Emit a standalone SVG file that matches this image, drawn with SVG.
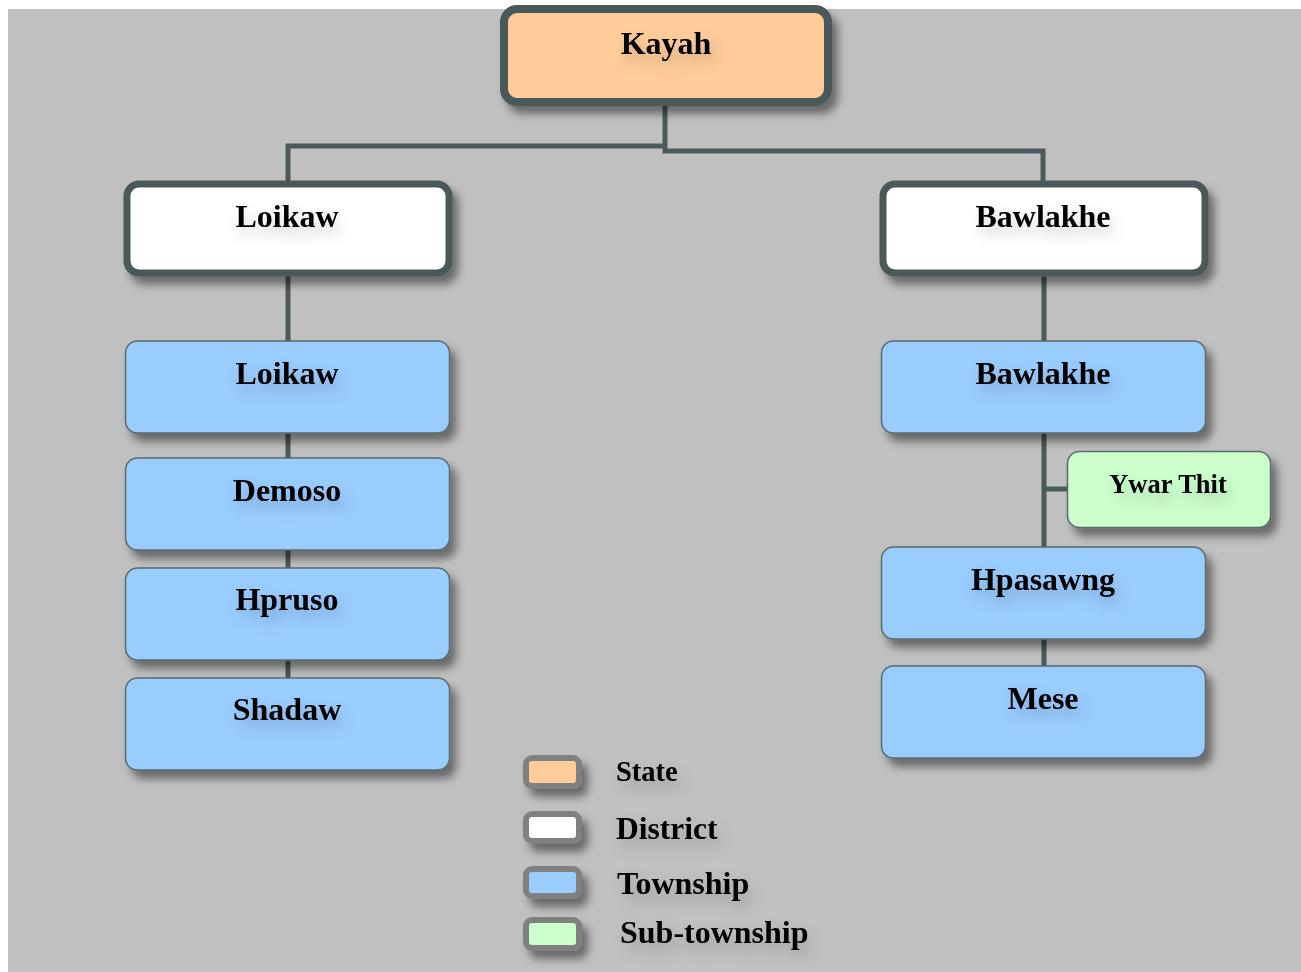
<svg xmlns="http://www.w3.org/2000/svg" width="1301" height="972" viewBox="0 0 1301 972">
<defs>
<filter id="sh" x="-10%" y="-20%" width="130%" height="150%">
<feDropShadow dx="6" dy="8" stdDeviation="4" flood-color="#000" flood-opacity="0.45"/>
</filter>
<filter id="shs" x="-40%" y="-60%" width="200%" height="260%">
<feDropShadow dx="6" dy="8" stdDeviation="4" flood-color="#000" flood-opacity="0.45"/>
</filter>
<filter id="tsh" x="-30%" y="-50%" width="160%" height="250%">
<feDropShadow dx="4" dy="8" stdDeviation="7" flood-color="#000" flood-opacity="0.18"/>
</filter>
<style>
.lbl{font-family:"Liberation Serif","Times New Roman",serif;font-weight:bold;fill:#000;text-anchor:middle;filter:url(#tsh)}
.leg{font-family:"Liberation Serif","Times New Roman",serif;font-weight:bold;fill:#000;filter:url(#tsh)}
.state{fill:#FFCC99;stroke:#4A5959;stroke-width:8}
.dist{fill:#FFFFFF;stroke:#4A5959;stroke-width:7}
.town{fill:#99CCFF;stroke:#5A6A6A;stroke-width:1.5}
.sub{fill:#CCFFCC;stroke:#5A6A6A;stroke-width:1.5}
.sw{stroke:#808080;stroke-width:6}
.con{fill:none;stroke:#4A5959;stroke-width:5}
</style>
</defs>
<rect x="0" y="0" width="1301" height="972" fill="#FFFFFF"/>
<rect x="8" y="9" width="1293" height="963" fill="#C0C0C0"/>
<g id="connectors">
<polyline class="con" points="665,105 665,151 1043,151 1043,181"/>
<polyline class="con" points="665,146 288,146 288,181"/>
<line class="con" x1="288" y1="276" x2="288" y2="341"/>
<line class="con" x1="288" y1="433" x2="288" y2="458"/>
<line class="con" x1="288" y1="550" x2="288" y2="568"/>
<line class="con" x1="288" y1="660" x2="288" y2="678"/>
<line class="con" x1="1044" y1="276" x2="1044" y2="341"/>
<line class="con" x1="1044" y1="433" x2="1044" y2="547"/>
<line class="con" x1="1044" y1="489" x2="1067" y2="489"/>
<line class="con" x1="1044" y1="639" x2="1044" y2="666"/>
</g>
<g id="kayah">
<rect class="state" x="504" y="9" width="324" height="93" rx="13" filter="url(#sh)"/>
<text class="lbl" x="666" y="54" font-size="32">Kayah</text>
</g>
<g id="loikaw-district">
<rect class="dist" x="127" y="184" width="322" height="89" rx="12" filter="url(#sh)"/>
<text class="lbl" x="287" y="227" font-size="32">Loikaw</text>
</g>
<g id="bawlakhe-district">
<rect class="dist" x="883" y="184" width="322" height="89" rx="12" filter="url(#sh)"/>
<text class="lbl" x="1043" y="227" font-size="32">Bawlakhe</text>
</g>
<g id="loikaw-township">
<rect class="town" x="125.500" y="341" width="324" height="92" rx="12" filter="url(#sh)"/>
<text class="lbl" x="287" y="384" font-size="32">Loikaw</text>
</g>
<g id="demoso">
<rect class="town" x="125.500" y="458" width="324" height="92" rx="12" filter="url(#sh)"/>
<text class="lbl" x="287" y="501" font-size="32">Demoso</text>
</g>
<g id="hpruso">
<rect class="town" x="125.500" y="568" width="324" height="92" rx="12" filter="url(#sh)"/>
<text class="lbl" x="287" y="610" font-size="32">Hpruso</text>
</g>
<g id="shadaw">
<rect class="town" x="125.500" y="678" width="324" height="92" rx="12" filter="url(#sh)"/>
<text class="lbl" x="287" y="720" font-size="32">Shadaw</text>
</g>
<g id="bawlakhe-township">
<rect class="town" x="881.500" y="341" width="324" height="92" rx="12" filter="url(#sh)"/>
<text class="lbl" x="1043" y="384" font-size="32">Bawlakhe</text>
</g>
<g id="ywar-thit">
<rect class="sub" x="1067.500" y="451.500" width="203" height="76" rx="12" filter="url(#sh)"/>
<text class="lbl" x="1168" y="493" font-size="26.500">Ywar Thit</text>
</g>
<g id="hpasawng">
<rect class="town" x="881.500" y="547" width="324" height="92" rx="12" filter="url(#sh)"/>
<text class="lbl" x="1043" y="590" font-size="32">Hpasawng</text>
</g>
<g id="mese">
<rect class="town" x="881.500" y="666" width="324" height="92" rx="12" filter="url(#sh)"/>
<text class="lbl" x="1043" y="709" font-size="32">Mese</text>
</g>
<g id="legend">
<rect class="sw" x="526" y="758" width="53" height="28" rx="6" fill="#FFCC99" filter="url(#shs)"/>
<rect class="sw" x="526" y="814" width="53" height="27" rx="6" fill="#FFFFFF" filter="url(#shs)"/>
<rect class="sw" x="526" y="869" width="53" height="27" rx="6" fill="#99CCFF" filter="url(#shs)"/>
<rect class="sw" x="526" y="920" width="53" height="28" rx="6" fill="#CCFFCC" filter="url(#shs)"/>
<text class="leg" x="616" y="781" font-size="28.500">State</text>
<text class="leg" x="616" y="839" font-size="31.500">District</text>
<text class="leg" x="617" y="894" font-size="32">Township</text>
<text class="leg" x="620" y="943" font-size="32">Sub-township</text>
</g>
</svg>
